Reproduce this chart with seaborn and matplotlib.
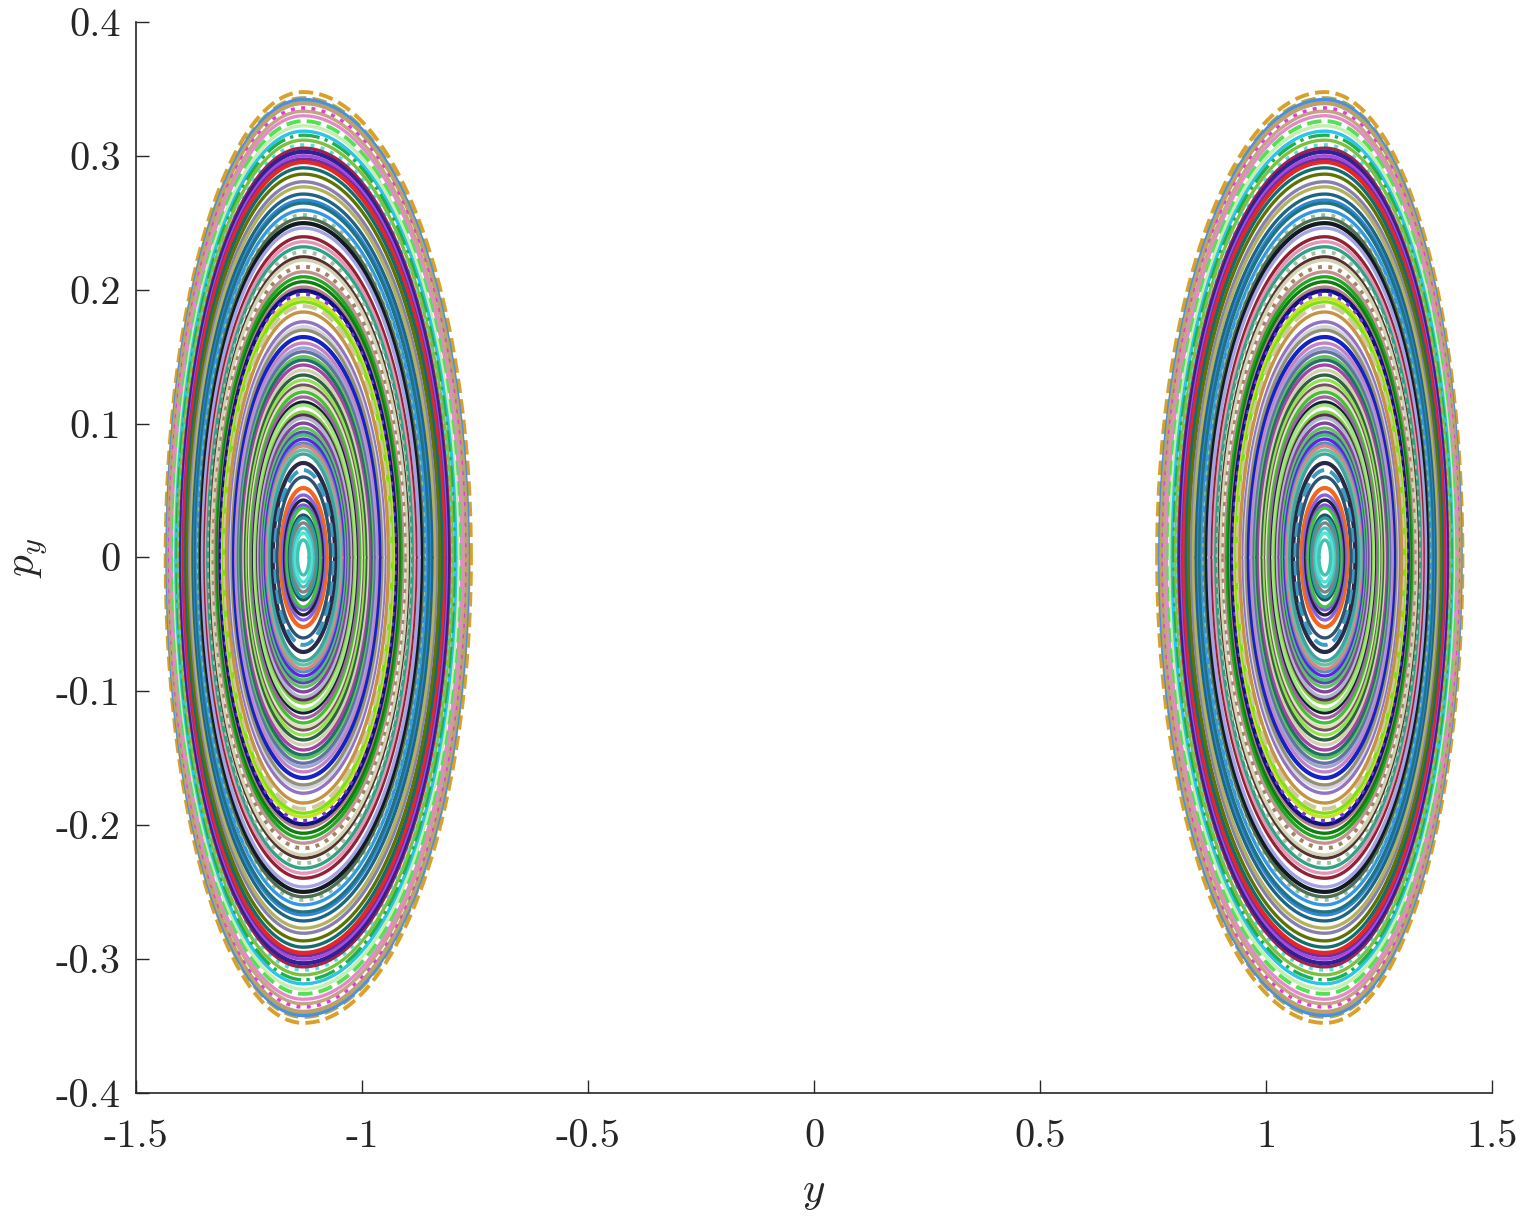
import numpy as np
import pandas as pd
import matplotlib
matplotlib.use("Agg")
import matplotlib.pyplot as plt
import seaborn as sns

# centre of each island (y) and the top value (p_y max) of every closed orbit, outside -> inside
well_centre = 1.13
p_max = [0.3477, 0.3432, 0.3419, 0.3394, 0.3357, 0.3334, 0.3300, 0.3260, 0.3225, 0.3185,
         0.3155, 0.3118, 0.3081, 0.3058, 0.3031, 0.3001, 0.2976, 0.2954, 0.2911, 0.2864,
         0.2807, 0.2769, 0.2715, 0.2670, 0.2648, 0.2595, 0.2558, 0.2535, 0.2498, 0.2461,
         0.2396, 0.2359, 0.2321, 0.2284, 0.2246, 0.2222, 0.2172, 0.2134, 0.2097, 0.2060,
         0.2020, 0.1993, 0.1968, 0.1938, 0.1910, 0.1878, 0.1834, 0.1761, 0.1724, 0.1699,
         0.1647, 0.1602, 0.1565, 0.1537, 0.1500, 0.1475, 0.1438, 0.1400, 0.1363, 0.1326,
         0.1288, 0.1266, 0.1236, 0.1199, 0.1161, 0.1139, 0.1087, 0.1064, 0.1042, 0.1004,
         0.0967, 0.0937, 0.0915, 0.0885, 0.0855, 0.0833, 0.0803, 0.0773, 0.0706, 0.0653,
         0.0601, 0.0519, 0.0467, 0.0429, 0.0392, 0.0370, 0.0317, 0.0295, 0.0258, 0.0220,
         0.0183, 0.0131]

curve_colors = ['#D9A12A', '#B5A642', '#4A8FE2', '#B9A36A', '#E33BE3', '#C4A484', '#E58AC8', '#55E055', '#C6EEB0', '#2EC4E8',
                '#1DB151', '#7FBF40', '#56E0D4', '#A3204F', '#2E2390', '#A64AE0', '#6A2FA0', '#E42626', '#0F6E72', '#5F7400',
                '#8580B0', '#B3B15E', '#1E6484', '#2F86D6', '#207382', '#3497E2', '#92C2A2', '#4F6E50', '#121A22', '#A3A3E3',
                '#912233', '#E596B6', '#2FA283', '#A2C2A2', '#55302F', '#D2D2B4', '#A38462', '#C39393', '#22A622', '#0E7F0E',
                '#B38383', '#11117F', '#7535E5', '#C3E423', '#80E012', '#D2C8A0', '#C49444', '#9272C2', '#D3D3E3', '#929272',
                '#1423C4', '#C383C3', '#A3A3D3', '#6272A2', '#62C262', '#207262', '#A343A3', '#D2D2B2', '#306242', '#92E252',
                '#725262', '#E2E2C2', '#42C232', '#A262A2', '#122232', '#A2E282', '#82D242', '#523252', '#B2B2D2', '#8242A2',
                '#62C262', '#6242B2', '#42C272', '#6222E2', '#5292C2', '#E28282', '#62C2A2', '#42A2A2', '#2A2A48', '#3E9CBE',
                '#305272', '#F2661E', '#8462E2', '#222242', '#8452E2', '#42C242', '#225262', '#22A2A2', '#828282', '#42C2C2',
                '#52E2D2', '#42C2B2']

dashed = {0: '--', 1: '--', 4: ':', 7: '--', 10: '-.', 26: ':', 36: ':', 42: ':', 45: '--', 79: '--', 33: ':', 12: ':'}
thick = {0, 2, 17, 28, 41, 50, 78, 81, 14, 3}

plt.rcParams['figure.dpi'] = 100
sns.set_style('ticks')
plt.rcParams['font.family'] = ['cmr10', 'DejaVu Serif']
plt.rcParams['mathtext.fontset'] = 'cm'
plt.rcParams['axes.unicode_minus'] = False

fig = plt.figure(figsize=(15.25, 12.25), dpi=100)
ax = fig.add_axes([0.0892, 0.1078, 0.9784 - 0.0892, 0.982 - 0.1078])

t = np.linspace(0, 2 * np.pi, 721)
for i, pm in enumerate(p_max):
    # orbits are a bit wider toward the saddle (inner side) than outward
    r_in = 0.98 + 0.25 * pm
    r_out = 0.98 - 0.30 * pm
    c = np.cos(t)
    dy = np.where(c > 0, r_in, r_out) * pm * c
    py = pm * np.sin(t)
    ls = dashed.get(i, '-')
    lw = 3.0 if i in thick else 2.4
    if ls in (':', '--'):
        lw = 2.8
    for side in (-1, 1):
        x = side * (well_centre - dy)
        sns.lineplot(x=x, y=py, sort=False, estimator=None, color=curve_colors[i],
                     linestyle=ls, linewidth=lw, ax=ax, legend=False)

ax.set_xlim(-1.5, 1.5)
ax.set_ylim(-0.4, 0.4)
xt = [-1.5, -1, -0.5, 0, 0.5, 1, 1.5]
yt = [-0.4, -0.3, -0.2, -0.1, 0, 0.1, 0.2, 0.3, 0.4]
ax.set_xticks(xt)
ax.set_xticklabels(['-1.5', '-1', '-0.5', '0', '0.5', '1', '1.5'])
ax.set_yticks(yt)
ax.set_yticklabels(['-0.4', '-0.3', '-0.2', '-0.1', '0', '0.1', '0.2', '0.3', '0.4'])
ax.tick_params(direction='in', length=9.5, width=1.0, labelsize=29, colors='#262626')
ax.tick_params(axis='x', pad=19)
ax.tick_params(axis='y', pad=11)
for s in ['top', 'right']:
    ax.spines[s].set_visible(False)
for s in ['left', 'bottom']:
    ax.spines[s].set_linewidth(1.2)
    ax.spines[s].set_color('#262626')

ax.set_xlabel('$y$', fontsize=31, labelpad=14)
ax.set_ylabel('$p_y$', fontsize=31, labelpad=4)

fig.savefig('out.png', dpi=100)
